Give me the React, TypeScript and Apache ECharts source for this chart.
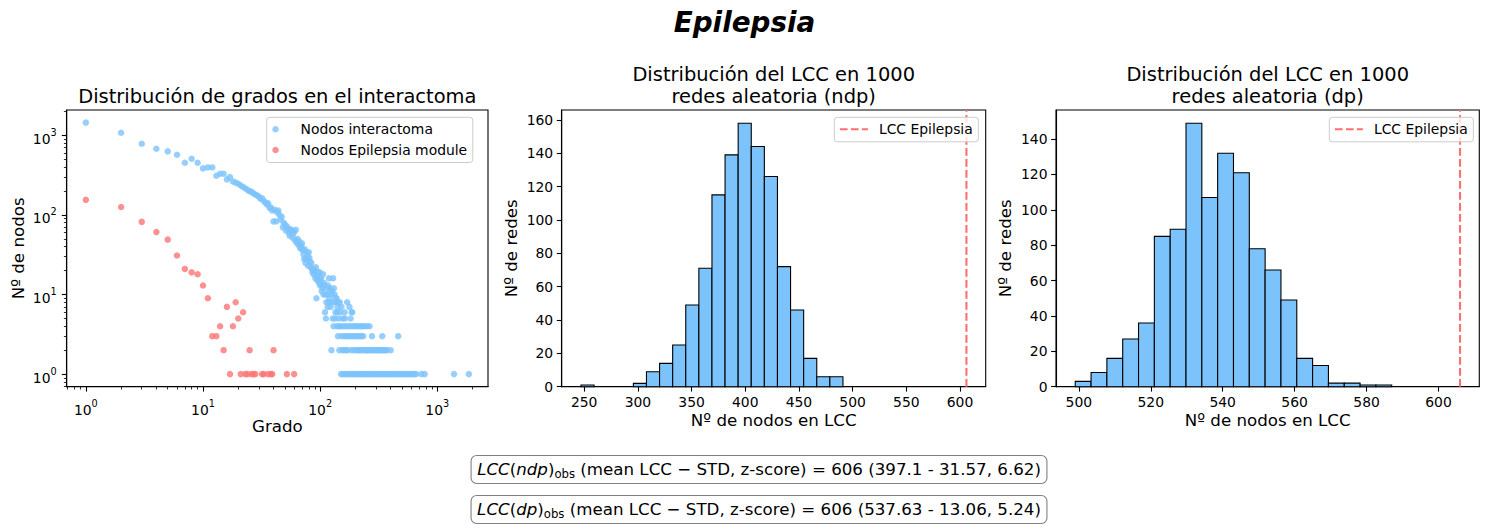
import React, { useEffect, useRef } from "react";
import * as echarts from "echarts";

const FONT = "DejaVu Sans";
const BLUE = "#7cc3fc";
const RED = "#fd7676";
const LINE_RED = "#ff6f6f";

// ---- Degree distribution: [degree, number of nodes] ----
const interactomePoints: [number, number][] = [
  [1, 1450], [2, 1080], [3, 786], [4, 680], [5, 630], [6, 571], [7, 453], [8, 509], [9, 453], [10, 385],
  [11, 396], [12, 396], [13, 311], [14, 330], [15, 330], [16, 280], [17, 299], [18, 264], [19, 255], [20, 247],
  [21, 235], [22, 225], [23, 215], [24, 207], [25, 199], [26, 195], [27, 186], [28, 181], [29, 176], [30, 170],
  [31, 160], [32, 162], [33, 150], [34, 144], [35, 136], [36, 140], [37, 123], [38, 124], [39, 114], [40, 83],
  [41, 116], [42, 83], [43, 108], [44, 114], [45, 100], [46, 87], [47, 95], [48, 70], [49, 80], [50, 75],
  [51, 64], [52, 72], [53, 67], [54, 60], [55, 55], [56, 66], [57, 64], [58, 52], [59, 58], [60, 62],
  [61, 48], [62, 65], [63, 45], [64, 50], [65, 43], [66, 47], [67, 40], [68, 38], [69, 41], [70, 44],
  [71, 36], [72, 32], [73, 28], [74, 37], [75, 25], [76, 28], [77, 34], [78, 30], [79, 23], [80, 34],
  [81, 29], [82, 26], [83, 22], [84, 25], [85, 21], [86, 19], [87, 21], [88, 18], [89, 20], [90, 20],
  [91, 16], [92, 22], [93, 9], [94, 17], [95, 15], [96, 16], [97, 19], [98, 14], [99, 19], [100, 13],
  [101, 15], [102, 16], [103, 11], [104, 13], [105, 12], [106, 18], [107, 10], [108, 14], [109, 13], [110, 6],
  [111, 10], [112, 5], [113, 8], [114, 12], [115, 10], [116, 7], [117, 13], [118, 8], [119, 16], [120, 9],
  [121, 11], [122, 12], [123, 7], [124, 8], [125, 2], [126, 10], [127, 11], [128, 5], [129, 16], [130, 4],
  [131, 12], [132, 8], [133, 10], [134, 5], [135, 6], [136, 9], [137, 8], [138, 9], [139, 4], [140, 6],
  [141, 7], [142, 3], [143, 8], [144, 5], [145, 4], [146, 2], [147, 8], [148, 6], [150, 4], [151, 1],
  [152, 7], [153, 3], [155, 2], [156, 5], [157, 1], [158, 4], [160, 2], [161, 3], [162, 6], [163, 5],
  [164, 1], [165, 4], [167, 2], [168, 3], [169, 1], [170, 8], [171, 2], [173, 4], [176, 3], [177, 1],
  [178, 7], [181, 4], [182, 5], [183, 1], [184, 3], [185, 2], [186, 6], [188, 6], [189, 4], [190, 1],
  [192, 3], [193, 2], [196, 1], [197, 4], [200, 3], [202, 2], [203, 1], [205, 4], [208, 3], [210, 2],
  [211, 1], [213, 4], [215, 2], [217, 3], [219, 1], [221, 2], [222, 4], [225, 3], [226, 1], [227, 2],
  [230, 4], [233, 3], [235, 1], [236, 2], [240, 4], [243, 1], [244, 2], [248, 2], [251, 1], [252, 4],
  [255, 2], [260, 1], [262, 2], [264, 4], [268, 1], [270, 2], [277, 3], [278, 1], [279, 2], [286, 2],
  [287, 1], [295, 2], [297, 1], [303, 2], [306, 1], [312, 2], [316, 1], [318, 2], [326, 2], [327, 1],
  [334, 2], [338, 1], [339, 3], [343, 2], [349, 1], [352, 2], [360, 1], [362, 2], [372, 2], [373, 1],
  [385, 1], [398, 1], [400, 2], [412, 1], [425, 1], [440, 1], [455, 1], [464, 3], [470, 1], [487, 1],
  [503, 1], [520, 1], [538, 1], [556, 1], [575, 1], [595, 1], [615, 1], [638, 1], [660, 1], [731, 1],
  [781, 1], [1390, 1], [1860, 1],
];

const modulePoints: [number, number][] = [
  [1, 155], [2, 126], [3, 82], [4, 61], [5, 49], [6, 31], [7, 21], [8, 19], [9, 18], [10, 13],
  [11, 9], [12, 3], [13, 3], [14, 4], [15, 2], [16, 7], [17, 1], [18, 4], [19, 8], [20, 5],
  [21, 1], [22, 6], [23, 1], [24, 1], [25, 2], [26, 1], [27, 1], [28, 1], [32, 1], [33, 1],
  [36, 1], [38, 1], [39, 1], [40, 2], [52, 1], [60, 1],
];

// ---- Histograms of LCC size over 1000 random networks ----
const ndpRange = [247, 491];
const ndpCounts = [1, 0, 0, 0, 2, 9, 14, 25, 49, 71, 115, 139, 158, 144, 126, 72, 46, 17, 6, 6];
const dpRange = [499, 587];
const dpCounts = [3, 8, 16, 27, 36, 85, 89, 149, 107, 132, 121, 78, 66, 49, 16, 12, 2, 2, 1, 1];
const lccObserved = 606;

const ndpStats = { mean: "397.1", std: "31.57", z: "6.62" };
const dpStats = { mean: "537.63", std: "13.06", z: "5.24" };

// ---- Tick values ----
const powerTicks = [1, 10, 100, 1000];
const ndpXTicks = [250, 300, 350, 400, 450, 500, 550, 600];
const ndpYTicks = [0, 20, 40, 60, 80, 100, 120, 140, 160];
const dpXTicks = [500, 520, 540, 560, 580, 600];
const dpYTicks = [0, 20, 40, 60, 80, 100, 120, 140];

// matplotlib-like 5% autoscale margins
function logLimits(vals: number[]): [number, number] {
  const lo = Math.log10(Math.min(...vals));
  const hi = Math.log10(Math.max(...vals));
  const m = (hi - lo) * 0.05;
  return [Math.pow(10, lo - m), Math.pow(10, hi + m)];
}
function linLimits(lo: number, hi: number): [number, number] {
  const m = (hi - lo) * 0.05;
  return [lo - m, hi + m];
}
function binsOf(range: number[], counts: number[]) {
  const w = (range[1] - range[0]) / counts.length;
  return counts
    .map((c, i) => [range[0] + i * w, range[0] + (i + 1) * w, c])
    .filter((d) => d[2] > 0);
}

const allPts = [...interactomePoints, ...modulePoints];
const degLim = logLimits(allPts.map((p) => p[0]));
const cntLim = logLimits(allPts.map((p) => p[1]));
const ndpLim = linLimits(ndpRange[0], lccObserved);
const dpLim = linLimits(dpRange[0], lccObserved);
const ndpYMax = Math.max(...ndpCounts) * 1.05;
const dpYMax = Math.max(...dpCounts) * 1.05;

const BLACK = "#000";
const tickFont = { fontSize: 13.9, fontFamily: FONT, color: BLACK };
const nameFont = { fontSize: 16.67, fontFamily: FONT, color: BLACK };

const powRich = {
  b: { fontSize: 13.9, fontFamily: FONT, color: BLACK, lineHeight: 16, padding: [7, 0, 0, 0] },
  s: { fontSize: 9.7, fontFamily: FONT, color: BLACK, lineHeight: 10, verticalAlign: "top" },
};
const powLabel = (v: number) => `{b|10}{s|${Math.round(Math.log10(v))}}`;

function logAxis(gridIndex: number, lim: [number, number], name: string, nameGap: number, isX: boolean) {
  return {
    type: "log",
    logBase: 10,
    gridIndex,
    min: lim[0],
    max: lim[1],
    name,
    nameLocation: "middle",
    nameGap,
    nameMoveOverlap: false,
    nameTextStyle: nameFont,
    axisLine: { show: true, onZero: false, lineStyle: { color: BLACK, width: 1.1 } },
    axisTick: { show: true, length: 4.9, customValues: powerTicks, lineStyle: { color: BLACK, width: 1.1 } },
    minorTick: { show: true, splitNumber: 9, length: 2.8, lineStyle: { color: BLACK, width: 0.8 } },
    axisLabel: {
      customValues: powerTicks,
      formatter: powLabel,
      rich: powRich,
      margin: isX ? 12 : 10,
      ...tickFont,
    },
    splitLine: { show: false },
    minorSplitLine: { show: false },
  };
}

function linAxis(gridIndex: number, lim: [number, number], ticks: number[], name: string, nameGap: number, isX: boolean) {
  return {
    type: "value",
    gridIndex,
    min: lim[0],
    max: lim[1],
    name,
    nameLocation: "middle",
    nameGap,
    nameMoveOverlap: false,
    nameTextStyle: nameFont,
    axisLine: { show: true, onZero: false, lineStyle: { color: BLACK, width: 1.1 } },
    axisTick: { show: true, length: 4.9, customValues: ticks, lineStyle: { color: BLACK, width: 1.1 } },
    axisLabel: { customValues: ticks, margin: isX ? 8 : 8.5, ...tickFont },
    splitLine: { show: false },
  };
}

function histSeries(data: number[][], axisIndex: number) {
  return {
    type: "custom",
    xAxisIndex: axisIndex,
    yAxisIndex: axisIndex,
    encode: { x: [0, 1], y: 2 },
    data,
    renderItem: (_params: any, api: any) => {
      const p0 = api.coord([api.value(0), api.value(2)]);
      const p1 = api.coord([api.value(1), 0]);
      return {
        type: "rect",
        shape: { x: p0[0], y: p0[1], width: p1[0] - p0[0], height: p1[1] - p0[1] },
        style: { fill: BLUE, stroke: BLACK, lineWidth: 1.1 },
      };
    },
    z: 2,
  };
}

function lccLine(axisIndex: number, yMax: number) {
  return {
    type: "line",
    name: "LCC Epilepsia",
    xAxisIndex: axisIndex,
    yAxisIndex: axisIndex,
    data: [
      [lccObserved, 0],
      [lccObserved, yMax],
    ],
    symbol: "none",
    lineStyle: { color: LINE_RED, width: 2.1, type: [7.7, 3.3] },
    itemStyle: { color: LINE_RED },
    z: 3,
  };
}

const legendBase = {
  orient: "vertical",
  top: 117.3,
  itemWidth: 28,
  itemGap: 4.7,
  selectedMode: false,
  padding: [4, 5.6, 4.5, 5.6],
  textStyle: { fontSize: 13.9, fontFamily: FONT, color: BLACK, lineHeight: 16, padding: [0, 0, 0, 6] },
  backgroundColor: "rgba(255,255,255,0.8)",
  borderColor: "#cccccc",
  borderWidth: 1,
  borderRadius: 3,
};

const dashedIcon = "path://M0,0h7.7v2.1h-7.7zM11,0h7.7v2.1h-7.7zM22,0h6v2.1h-6z";

const titleFont = { fontSize: 19.44, fontFamily: FONT, color: BLACK, fontWeight: "normal", lineHeight: 22.5 };

function boxText(tag: string, s: { mean: string; std: string; z: string }) {
  return `{it|LCC}{n|(}{it|${tag}}{n|)}{sub|obs}{n| (mean LCC − STD, z-score) = ${lccObserved} (${s.mean} - ${s.std}, ${s.z})}`;
}
const boxRich = {
  it: { fontSize: 16.67, fontFamily: FONT, fontStyle: "italic", fill: BLACK, lineHeight: 20 },
  n: { fontSize: 16.67, fontFamily: FONT, fill: BLACK, lineHeight: 20 },
  sub: { fontSize: 11.7, fontFamily: FONT, fill: BLACK, lineHeight: 12, verticalAlign: "bottom" },
};
function boxGraphic(y: number, text: string) {
  return {
    type: "text",
    x: 759,
    y,
    style: {
      text,
      rich: boxRich,
      align: "center",
      verticalAlign: "middle",
      fontSize: 16.67,
      fontFamily: FONT,
      fill: BLACK,
      backgroundColor: "#ffffff",
      borderColor: "#808080",
      borderWidth: 1.1,
      borderRadius: 5,
      padding: [3.5, 5.5, 3.5, 5.5],
    },
  };
}

const gridBase = {
  show: true,
  borderColor: BLACK,
  borderWidth: 1.1,
  backgroundColor: "transparent",
  containLabel: false,
  outerBoundsMode: "none",
  top: 110,
  height: 276.7,
};

const option: any = {
  animation: false,
  backgroundColor: "#ffffff",
  textStyle: { fontFamily: FONT },
  title: [
    {
      text: "Epilepsia",
      left: 744.5,
      top: 6,
      padding: 0,
      textAlign: "center",
      textVerticalAlign: "top",
      textStyle: { fontSize: 27.8, fontFamily: FONT, fontWeight: "bold", fontStyle: "italic", color: BLACK, lineHeight: 33 },
    },
    {
      text: "Distribución de grados en el interactoma",
      left: 277.3,
      top: 84.75,
      padding: 0,
      textAlign: "center",
      textVerticalAlign: "top",
      textStyle: titleFont,
    },
    {
      text: "Distribución del LCC en 1000\nredes aleatoria (ndp)",
      left: 773.7,
      top: 62.75,
      padding: 0,
      textAlign: "center",
      textVerticalAlign: "top",
      textStyle: titleFont,
    },
    {
      text: "Distribución del LCC en 1000\nredes aleatoria (dp)",
      left: 1267.7,
      top: 62.75,
      padding: 0,
      textAlign: "center",
      textVerticalAlign: "top",
      textStyle: titleFont,
    },
  ],
  grid: [
    { ...gridBase, left: 66.7, width: 421.3 },
    { ...gridBase, left: 561.7, width: 424 },
    { ...gridBase, left: 1056, width: 423.3 },
  ],
  xAxis: [
    logAxis(0, degLim, "Grado", 31, true),
    linAxis(1, ndpLim as [number, number], ndpXTicks, "Nº de nodos en LCC", 25, true),
    linAxis(2, dpLim as [number, number], dpXTicks, "Nº de nodos en LCC", 25, true),
  ],
  yAxis: [
    logAxis(0, cntLim, "Nº de nodos", 39.3, false),
    linAxis(1, [0, ndpYMax], ndpYTicks, "Nº de redes", 42, false),
    linAxis(2, [0, dpYMax], dpYTicks, "Nº de redes", 42, false),
  ],
  legend: [
    {
      ...legendBase,
      left: 266.7,
      data: ["Nodos interactoma", "Nodos Epilepsia module"],
      icon: "circle",
      itemHeight: 6.5,
    },
    { ...legendBase, left: 834.3, data: ["LCC Epilepsia"], icon: dashedIcon, itemHeight: 2.1 },
    { ...legendBase, left: 1329.3, data: ["LCC Epilepsia"], icon: dashedIcon, itemHeight: 2.1 },
  ],
  series: [
    {
      type: "scatter",
      name: "Nodos interactoma",
      xAxisIndex: 0,
      yAxisIndex: 0,
      data: interactomePoints,
      symbol: "circle",
      symbolSize: 6.5,
      itemStyle: { color: BLUE },
      z: 2,
    },
    {
      type: "scatter",
      name: "Nodos Epilepsia module",
      xAxisIndex: 0,
      yAxisIndex: 0,
      data: modulePoints,
      symbol: "circle",
      symbolSize: 6.5,
      itemStyle: { color: RED },
      z: 3,
    },
    histSeries(binsOf(ndpRange, ndpCounts), 1),
    lccLine(1, ndpYMax),
    histSeries(binsOf(dpRange, dpCounts), 2),
    lccLine(2, dpYMax),
  ],
  graphic: [
    boxGraphic(469.5, boxText("ndp", ndpStats)),
    boxGraphic(509.5, boxText("dp", dpStats)),
  ],
};

export default function App() {
  const ref = useRef<HTMLDivElement>(null);
  useEffect(() => {
    const chart = echarts.init(ref.current!, undefined, { renderer: "svg" });
    chart.setOption(option);
    return () => chart.dispose();
  }, []);
  return (
    <div
      ref={ref}
      style={{ position: "fixed", left: 0, top: 0, width: 1489, height: 529, background: "#fff" }}
    />
  );
}
